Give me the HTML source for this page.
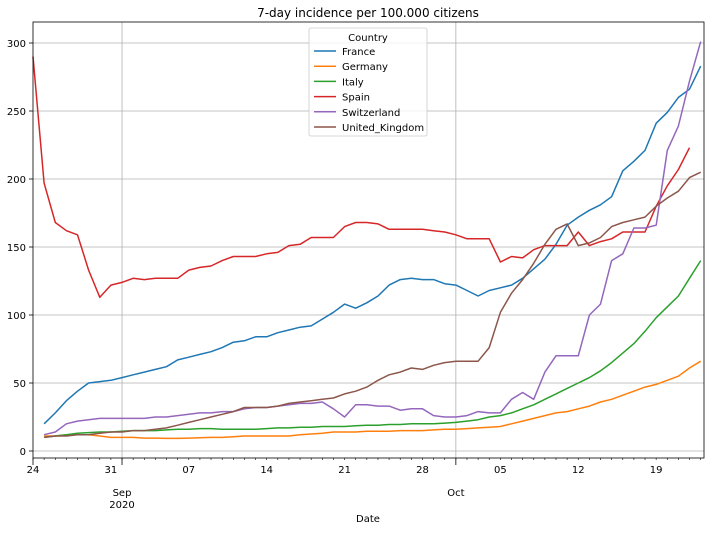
<!DOCTYPE html>
<html><head><meta charset="utf-8"><style>
body{margin:0;background:#fff;font-family:"DejaVu Sans","Liberation Sans",sans-serif;}
svg text{font-family:"DejaVu Sans","Liberation Sans",sans-serif;}
</style></head><body>
<svg id="chart" width="710" height="531" xmlns="http://www.w3.org/2000/svg"></svg>
<script>
const countries = ["France","Germany","Italy","Spain","Switzerland","United_Kingdom"];
const colors = ["#1f77b4","#ff7f0e","#2ca02c","#d62728","#9467bd","#8c564b"];
const startDays = [1,1,1,0,1,1];
const france = [20,28,37,44,50,51,52,54,56,58,60,62,67,69,71,73,76,80,81,84,84,87,89,91,92,97,102,108,105,109,114,122,126,127,126,126,123,122,118,114,118,120,122,127,134,141,152,166,172,177,181,187,206,213,221,241,249,260,266,283];
const germany = [11,11,12,12,12,11,10,10,10,9.5,9.5,9.3,9.3,9.5,9.8,10,10,10.5,11,11,11,11,11,12,12.5,13,14,14,14,14.5,14.5,14.5,15,15,15,15.5,16,16,16.5,17,17.5,18,20,22,24,26,28,29,31,33,36,38,41,44,47,49,52,55,61,66];
const italy = [10,11,12,13,13.5,14,14,14.5,15,15,15,15.5,16,16,16.5,16.5,16,16,16,16,16.5,17,17,17.5,17.5,18,18,18,18.5,19,19,19.5,19.5,20,20,20,20.5,21,22,23,25,26,28,31,34,38,42,46,50,54,59,65,72,79,88,98,106,114,127,140];
const spain = [290,197,168,162,159,133,113,122,124,127,126,127,127,127,133,135,136,140,143,143,143,145,146,151,152,157,157,157,165,168,168,167,163,163,163,163,162,161,159,156,156,156,139,143,142,148,151,151,151,161,151,154,156,161,161,161,180,195,207,223];
const switzerland = [12,14,20,22,23,24,24,24,24,24,25,25,26,27,28,28,29,29,31,32,32,33,34,35,35,36,31,25,34,34,33,33,30,31,31,26,25,25,26,29,28,28,38,43,38,58,70,70,70,100,108,140,145,164,164,166,221,239,272,301];
const uk = [10,11,11,12,12,13,14,14,15,15,16,17,19,21,23,25,27,29,32,32,32,33,35,36,37,38,39,42,44,47,52,56,58,61,60,63,65,66,66,66,76,102,116,126,138,152,163,167,151,153,157,165,168,170,172,180,186,191,201,205];
const series = [france,germany,italy,spain,switzerland,uk];
const yTicks = [0,50,100,150,200,250,300];
const xTickDays = [0,7,14,21,28,35,42,49,56];
const xTickLabels = ["24","31","07","14","21","28","05","12","19"];
const majorDays = [8,38];
const totalDays = 60.3;

const svg = document.getElementById('chart');
const NS = "http://www.w3.org/2000/svg";
const L=33,R=704,T=22,B=458;
const x = d => L + d*(R-L)/totalDays;
const y = v => 451 - v*1.36;
function mk(tag, attrs, parent){const e=document.createElementNS(NS,tag);for(const k in attrs)e.setAttribute(k,attrs[k]);(parent||svg).appendChild(e);return e;}

// grid
yTicks.forEach(v=>{
  const g=mk('line',{x1:L,x2:R,y1:y(v),y2:y(v),stroke:'#b0b0b0','stroke-width':0.8});
  
  
  mk('line',{x1:L-4,x2:L,y1:y(v),y2:y(v),stroke:'#000','stroke-width':0.8});
  const t=mk('text',{x:L-7,y:y(v)+4,'text-anchor':'end','font-size':10});
  t.textContent=v;
  
  
});
majorDays.forEach(d=>{
  const g=mk('line',{x1:x(d),x2:x(d),y1:T,y2:B,stroke:'#b0b0b0','stroke-width':0.8});
  
  
  mk('line',{x1:x(d),x2:x(d),y1:B,y2:B+7,stroke:'#000','stroke-width':0.8});
});
for(let d=0;d<=60;d++){mk('line',{x1:x(d),x2:x(d),y1:B,y2:B+2,stroke:'#000','stroke-width':0.6});}
mk('line',{x1:x(0),x2:x(0),y1:B,y2:B+7,stroke:'#000','stroke-width':0.8});
xTickDays.forEach((d,i)=>{
  const t=mk('text',{x:x(d),y:B+15,'text-anchor':'middle','font-size':10});
  t.textContent=xTickLabels[i];
  
  
});
[["Sep",x(8),496],["2020",x(8),508],["Oct",x(38),496]].forEach(a=>{
  const t=mk('text',{x:a[1],y:a[2],'text-anchor':'middle','font-size':10});
  t.textContent=a[0];
  
  
});

// series
series.forEach((s,i)=>{
  const pts=s.map((v,j)=>x(startDays[i]+j).toFixed(1)+','+y(v).toFixed(1)).join(' ');
  const p=mk('polyline',{points:pts,fill:'none',stroke:colors[i],'stroke-width':1.5,'stroke-linejoin':'round'});
  
  
});

// frame
const fr=mk('rect',{x:L,y:T,width:R-L,height:B-T,fill:'none',stroke:'#000','stroke-width':0.8});



// title & labels
const ti=mk('text',{x:368,y:17,'text-anchor':'middle','font-size':12});
ti.textContent='7-day incidence per 100.000 citizens';


const xl=mk('text',{x:368,y:522,'text-anchor':'middle','font-size':10});
xl.textContent='Date';



// legend
const lg=mk('g',{});


mk('rect',{x:309,y:28,width:118,height:108,rx:2,fill:'#fff','fill-opacity':0.8,stroke:'#ccc','stroke-width':0.8},lg);
const lt=mk('text',{x:368,y:41,'text-anchor':'middle','font-size':10},lg);
lt.textContent='Country';


countries.forEach((c,i)=>{
  const yy=51+i*15.2;
  const ln=mk('line',{x1:314,x2:336,y1:yy,y2:yy,stroke:colors[i],'stroke-width':1.5},lg);
  
  
  const t=mk('text',{x:342,y:yy+4,'font-size':10},lg);
  t.textContent=c;
  
  
});
</script>
</body></html>
